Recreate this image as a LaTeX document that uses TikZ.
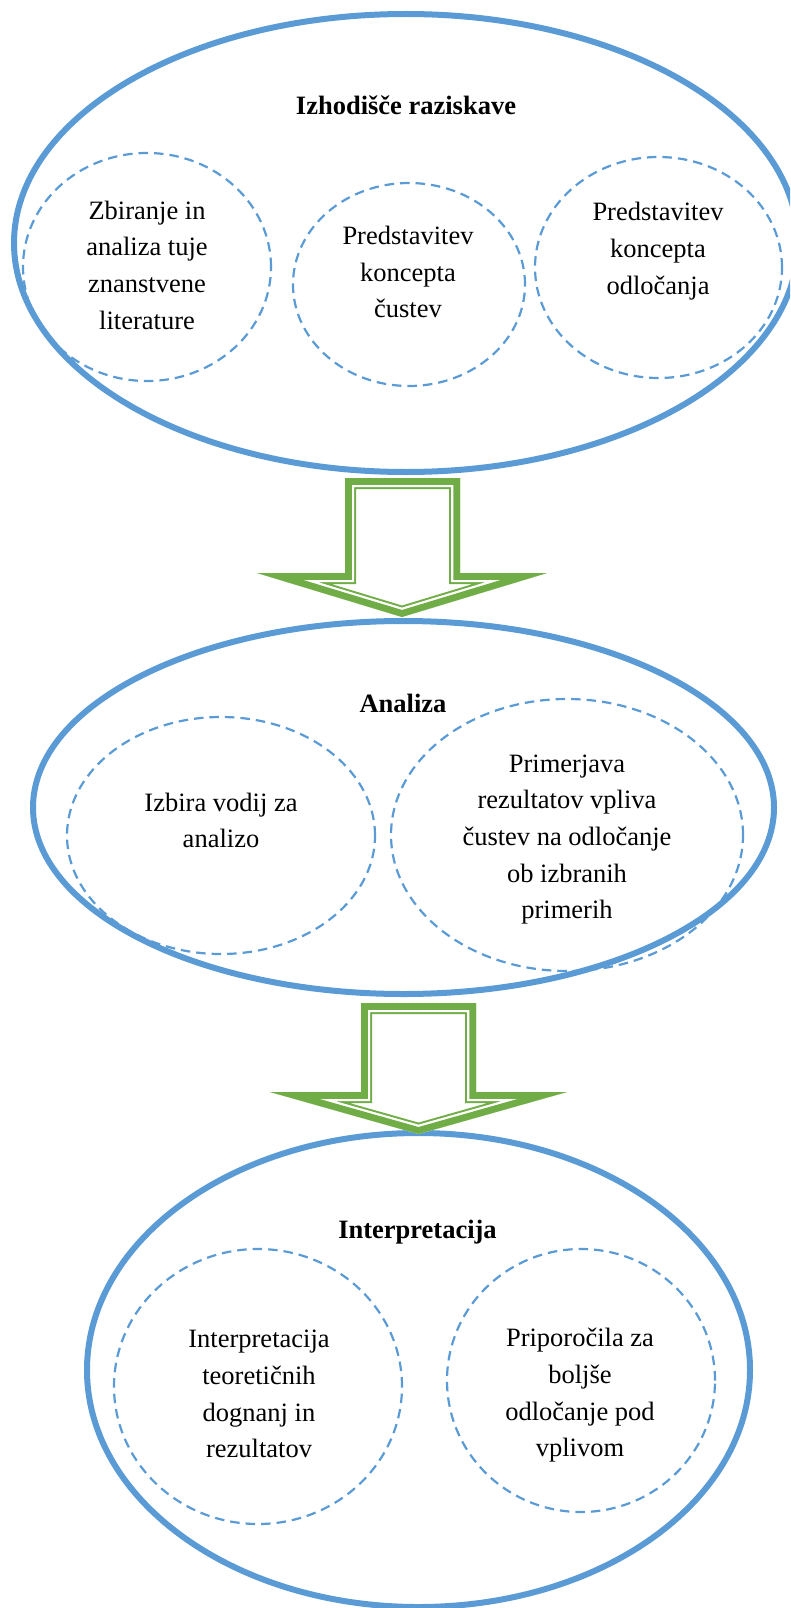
\documentclass[tikz,border=0pt]{standalone}
\usepackage{fontspec}
\setmainfont{Liberation Serif}
\usetikzlibrary{shapes.geometric}

\definecolor{ringblue}{HTML}{5B9BD5}
\definecolor{arrowgreen}{HTML}{70AD47}

\tikzset{
  phase/.style={draw=ringblue, line width=6pt, ellipse, inner sep=0pt, outer sep=0pt},
  topic/.style={draw=ringblue, line width=2.2pt, dash pattern=on 9.5pt off 6pt,
                ellipse, inner sep=0pt, outer sep=0pt},
  heading/.style={font=\bfseries\fontsize{26.5}{36.7}\selectfont, anchor=base, inner sep=0pt},
  body/.style={font=\fontsize{26.5}{36.7}\selectfont, align=center, inner sep=0pt},
}

% hollow block arrow: thick outer band, thin white gap, thin inner line
\newcommand\hollowarrow[1]{%
  \begin{scope}
    \clip #1;
    \draw[arrowgreen, line width=22pt] #1;
    \draw[white, line width=18pt] #1;
    \draw[arrowgreen, line width=13.5pt] #1;
  \end{scope}}

\begin{document}
\begin{tikzpicture}[x=1pt, y=-1pt]
  \useasboundingbox (0,0) rectangle (790,1608);
  \fill[white] (0,0) rectangle (790,1608);
  \clip (0,0) rectangle (790,1608);

  % phase 1
  \node[topic, minimum width=248, minimum height=228] (c11) at (147,267) {};
  \node[topic, minimum width=232, minimum height=203] (c12) at (409,284.5) {};
  \node[topic, minimum width=247, minimum height=221] (c13) at (658.5,267.5) {};
  \node[phase, minimum width=784, minimum height=458] (e1) at (406,243) {};
  \node[heading] (h1) at (406,115) {Izhodišče raziskave};
  \node[body] (t11) at (147,265) {Zbiranje in\\analiza tuje\\znanstvene\\literature};
  \node[body] (t12) at (408,272) {Predstavitev\\koncepta\\čustev};
  \node[body] (t13) at (658,251) {Predstavitev\\koncepta\\odločanja};

  % phase 2
  \node[topic, minimum width=308, minimum height=237] (c21) at (221,835.5) {};
  \node[topic, minimum width=352, minimum height=272] (c22) at (567,835) {};
  \node[phase, minimum width=741, minimum height=373] (e2) at (403.5,807.5) {};
  \node[heading] (h2) at (403,712) {Analiza};
  \node[body] (t21) at (221,820.5) {Izbira vodij za\\analizo};
  \node[body] (t22) at (567,839.5) {Primerjava\\rezultatov vpliva\\čustev na odločanje\\ob izbranih\\primerih};

  % phase 3
  \node[topic, minimum width=288, minimum height=275] (c31) at (258,1386.5) {};
  \node[topic, minimum width=268, minimum height=263] (c32) at (581,1380.5) {};
  \node[phase, minimum width=663, minimum height=474] (e3) at (418.5,1370) {};
  \node[heading] (h3) at (417.5,1238) {Interpretacija};
  \node[body] (t31) at (259,1394) {Interpretacija\\teoretičnih\\dognanj in\\rezultatov};
  \node[body] (t32) at (580,1395.5) {Priporočila za\\boljše\\odločanje pod\\vplivom};

  % arrows between phases
  \hollowarrow{(345,478) -- (460,478) -- (460,573) -- (547,573) -- (402,617) -- (257,573) -- (345,573) -- cycle}
  \hollowarrow{(361,1003) -- (476,1003) -- (476,1092) -- (567,1092) -- (418.5,1134) -- (270,1092) -- (361,1092) -- cycle}
\end{tikzpicture}
\end{document}
